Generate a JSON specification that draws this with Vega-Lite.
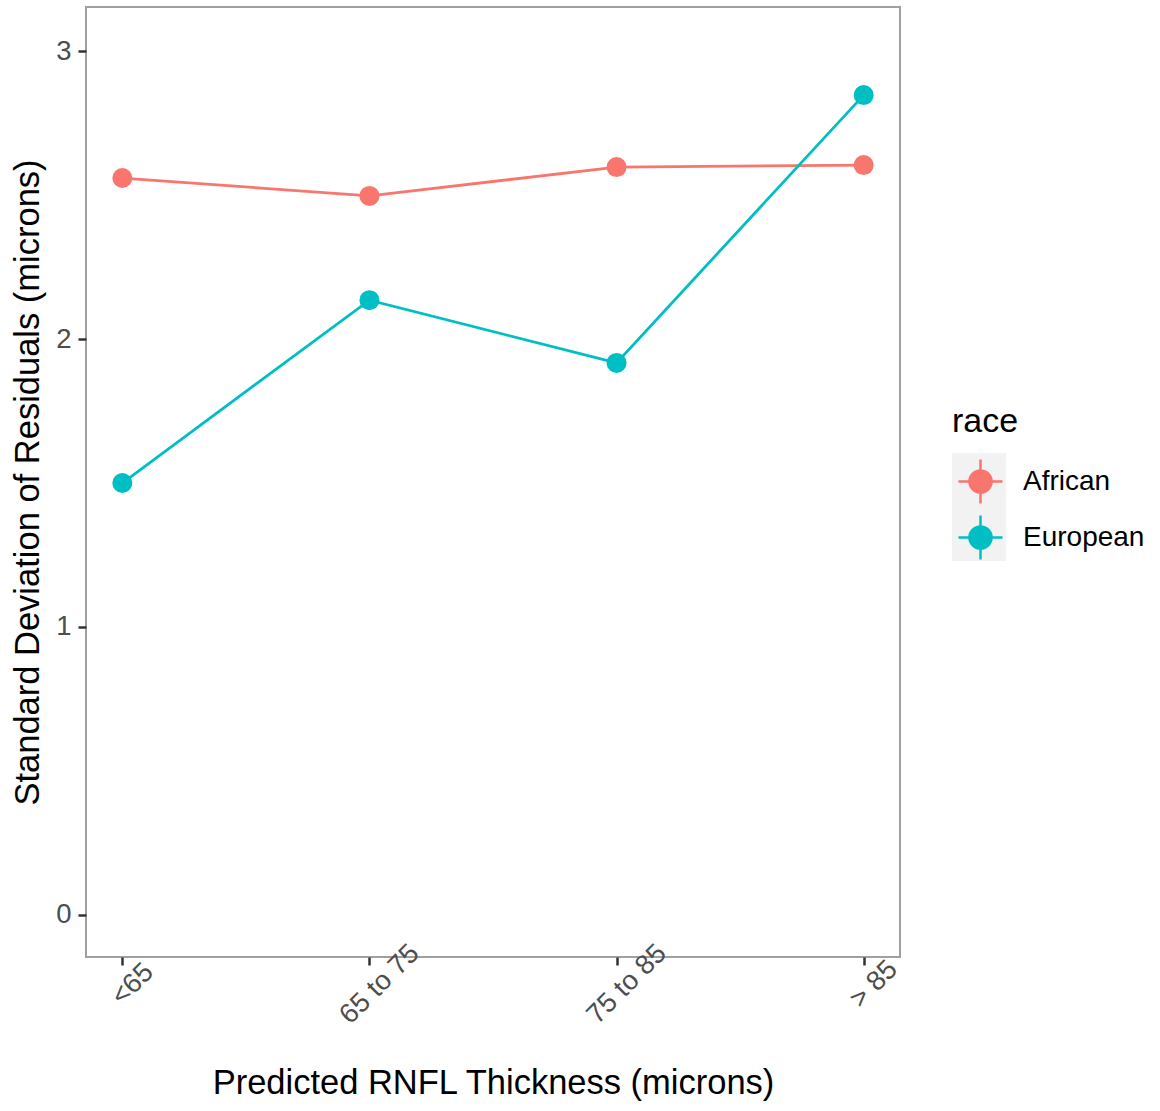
{
  "$schema": "https://vega.github.io/schema/vega-lite/v6.json",
  "width": 814,
  "height": 950,
  "autosize": {"type": "none"},
  "padding": {"left": 86, "top": 7, "right": 260, "bottom": 154},
  "background": "white",
  "config": {
    "font": "Liberation Sans",
    "view": {"stroke": "#a0a0a0", "strokeWidth": 2},
    "axis": {
      "grid": false,
      "domain": false,
      "tickColor": "#333333",
      "tickWidth": 2.5,
      "tickSize": 8,
      "labelColor": "#4d4d4d",
      "labelFontSize": 27.5,
      "labelFont": "Liberation Sans",
      "titleFont": "Liberation Sans",
      "titleFontSize": 34.5,
      "titleFontWeight": "normal",
      "titleColor": "#000000"
    }
  },
  "data": {
    "values": [
      {"bin": "<65", "race": "African", "sd": 2.559},
      {"bin": "65 to 75", "race": "African", "sd": 2.497},
      {"bin": "75 to 85", "race": "African", "sd": 2.597},
      {"bin": "> 85", "race": "African", "sd": 2.604},
      {"bin": "<65", "race": "European", "sd": 1.5},
      {"bin": "65 to 75", "race": "European", "sd": 2.135},
      {"bin": "75 to 85", "race": "European", "sd": 1.917},
      {"bin": "> 85", "race": "European", "sd": 2.847}
    ]
  },
  "encoding": {
    "x": {
      "field": "bin",
      "type": "ordinal",
      "sort": ["<65", "65 to 75", "75 to 85", "> 85"],
      "scale": {"type": "point", "padding": 0.147},
      "axis": {
        "title": "Predicted RNFL Thickness (microns)",
        "labelAngle": -45,
        "labelAlign": "center",
        "labelBaseline": "top",
        "labelPadding": 9,
        "titlePadding": 38
      }
    },
    "y": {
      "field": "sd",
      "type": "quantitative",
      "scale": {"domain": [-0.146, 3.153], "nice": false, "zero": false},
      "axis": {
        "title": "Standard Deviation of Residuals (microns)",
        "values": [0, 1, 2, 3],
        "format": "d",
        "labelPadding": 7,
        "titlePadding": 10
      }
    }
  },
  "layer": [
    {
      "mark": {"type": "line", "strokeWidth": 2.8},
      "encoding": {
        "color": {
          "field": "race",
          "type": "nominal",
          "scale": {"domain": ["African", "European"], "range": ["#F8766D", "#00BFC4"]},
          "legend": {
            "title": "race",
            "orient": "none",
            "legendX": 866,
            "legendY": 398,
            "zindex": 2,
            "titleFontSize": 34,
            "titleFontWeight": "normal",
            "titleColor": "#000000",
            "titlePadding": 14,
            "labelFontSize": 28,
            "labelColor": "#000000",
            "labelOffset": 14,
            "rowPadding": 0,
            "symbolSize": 2916,
            "symbolStrokeWidth": 2.5,
            "symbolType": "M-0.815,0L0.815,0M0,-0.815L0,0.815M-0.41,0A0.41,0.41,0,1,0,0.41,0A0.41,0.41,0,1,0,-0.41,0Z",
            "encode": {
              "symbols": {
                "update": {
                  "stroke": {"scale": "color", "field": "value"},
                  "fill": {"scale": "color", "field": "value"},
                  "strokeWidth": {"value": 2.5},
                  "opacity": {"value": 1}
                }
              }
            }
          }
        },
        "opacity": {
          "field": "race",
          "type": "nominal",
          "scale": {"range": [1, 1]},
          "legend": {
            "title": null,
            "orient": "none",
            "legendX": 866,
            "legendY": 446,
            "zindex": 1,
            "labelExpr": "''",
            "labelFontSize": 28,
            "labelOffset": 14,
            "rowPadding": 0,
            "symbolSize": 2916,
            "symbolType": "square",
            "symbolFillColor": "#f2f2f2",
            "symbolStrokeColor": "transparent",
            "symbolStrokeWidth": 0
          }
        }
      }
    },
    {
      "mark": {"type": "point", "filled": true, "size": 400, "opacity": 1},
      "encoding": {
        "color": {"field": "race", "type": "nominal"}
      }
    }
  ]
}
